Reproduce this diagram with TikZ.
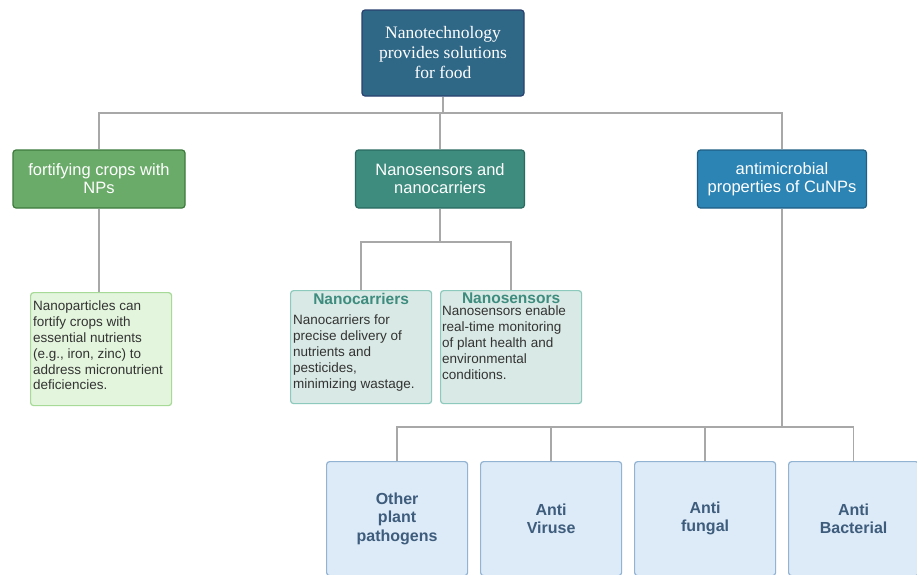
\documentclass[tikz,border=0pt]{standalone}
\usepackage{fontspec}
\setmainfont{Liberation Sans}
\newfontfamily\titlefont{Liberation Serif}
\usetikzlibrary{positioning}

\definecolor{topfill}{HTML}{2F6787}
\definecolor{topdraw}{HTML}{2A416F}
\definecolor{greenfill}{HTML}{6AAB69}
\definecolor{greendraw}{HTML}{3C7A3C}
\definecolor{tealfill}{HTML}{3D8C7E}
\definecolor{tealdraw}{HTML}{2A6A60}
\definecolor{bluefill}{HTML}{2B84B4}
\definecolor{bluedraw}{HTML}{1F5E85}
\definecolor{notegreen}{HTML}{E3F5DC}
\definecolor{notegreendraw}{HTML}{A6DA96}
\definecolor{noteteal}{HTML}{D9E9E5}
\definecolor{notetealdraw}{HTML}{8DCABD}
\definecolor{leaffill}{HTML}{DDEBF8}
\definecolor{leafdraw}{HTML}{93B3D3}
\definecolor{leaftext}{HTML}{3E5C7C}
\definecolor{linkgray}{HTML}{A8A8A8}

\begin{document}
\begin{tikzpicture}[x=1pt, y=-1pt,
        topbox/.style={rectangle, draw=topdraw, line width=1.2pt, fill=topfill, text=white, rounded corners=3pt,
            minimum width=162pt, minimum height=86pt, align=center, font=\titlefont\fontsize{17.5}{20}\selectfont},
        catbox/.style={rectangle, line width=1.2pt, text=white, rounded corners=3pt,
            minimum width=172pt, minimum height=58pt, align=center, font=\fontsize{16.5}{18}\selectfont},
        notebox/.style={rectangle, line width=1.2pt, rounded corners=3pt, text=black!80,
            minimum width=141pt, minimum height=113pt, inner sep=3pt, font=\fontsize{13.5}{16}\selectfont},
        notetext/.style={anchor=north west, align=left, text=black!80, inner sep=0pt, font=\fontsize{13.5}{15.8}\selectfont},
        notetitle/.style={anchor=north, text=tealfill, inner sep=3pt, font=\bfseries\fontsize{15.5}{17}\selectfont},
        leafbox/.style={rectangle, draw=leafdraw, line width=1.2pt, fill=leaffill, text=leaftext, rounded corners=3pt,
            minimum width=141pt, minimum height=114pt, align=center, font=\bfseries\fontsize{16}{18.5}\selectfont},
        line/.style={draw=linkgray, line width=1.5pt}]

        \useasboundingbox (0,0) rectangle (917,574);
        \clip (0,0) rectangle (917,574);
        \fill[white] (0,0) rectangle (917,574);

        % top level
        \node [topbox] (food) at (443,53) {Nanotechnology\\provides solutions\\for food};

        % categories
        \node [catbox, draw=greendraw, fill=greenfill] (fortify) at (99,179) {fortifying crops with\\NPs};
        \node [catbox, draw=tealdraw, fill=tealfill, minimum width=169pt] (nano) at (440,179) {Nanosensors and\\nanocarriers};
        \node [catbox, draw=bluedraw, fill=bluefill, minimum width=169pt] (cunp) at (782,179) {antimicrobial\\properties of CuNPs};

        % notes
        \node [notebox, draw=notegreendraw, fill=notegreen, anchor=north west] (fortnote) at (30,292) {};
        \node [notetext] (fortnotetext) at (33,301)
            {Nanoparticles can\\fortify crops with\\essential nutrients\\(e.g., iron, zinc) to\\address micronutrient\\deficiencies.};
        \node [notebox, draw=notetealdraw, fill=noteteal, anchor=north west] (carriers) at (290,290) {};
        \node [notebox, draw=notetealdraw, fill=noteteal, anchor=north west] (sensors) at (440,290) {};
        \node [notetitle] (carrierstitle) at (carriers.north) {Nanocarriers};
        \node [notetext] (carrierstext) at (293,315)
            {Nanocarriers for\\precise delivery of\\nutrients and\\pesticides,\\minimizing wastage.};
        \node [notetitle] (sensorstitle) at (sensors.north) {Nanosensors};
        \node [notetext] (sensorstext) at (442,306)
            {Nanosensors enable\\real-time monitoring\\of plant health and\\environmental\\conditions.};

        % CuNP effects
        \node [leafbox, anchor=north west] (other) at (326,461) {Other\\plant\\pathogens};
        \node [leafbox, anchor=north west] (virus) at (480,461) {Anti\\Viruse};
        \node [leafbox, anchor=north west] (fungal) at (634,461) {Anti\\fungal};
        \node [leafbox, anchor=north west, minimum width=130pt] (bact) at (788,461) {Anti\\Bacterial};

        % connectors
        \coordinate (split1) at (443,113);
        \coordinate (split2) at (440,242);
        \coordinate (split3) at (782,427);
        \path [line] (food) -- (split1);
        \path [line] (split1) -| (fortify);
        \path [line] (split1) -| (nano);
        \path [line] (split1) -| (cunp);
        \path [line] (fortify) -- (fortify |- fortnote.north);
        \path [line] (nano) -- (split2);
        \path [line] (split2) -| (carriers);
        \path [line] (split2) -| (sensors);
        \path [line] (cunp) -- (split3);
        \path [line] (split3) -| (other);
        \path [line] (split3) -| (virus);
        \path [line] (split3) -| (fungal);
        \path [line] (split3) -| (bact);

    \end{tikzpicture}
\end{document}
